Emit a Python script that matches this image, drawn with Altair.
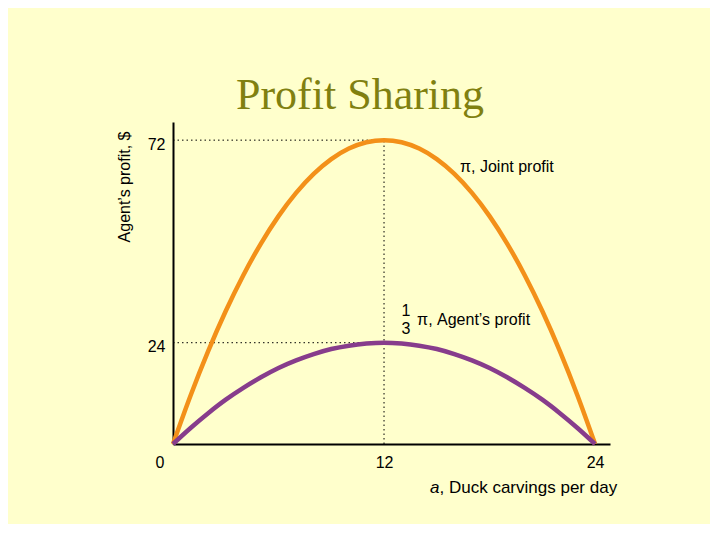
import altair as alt
import pandas as pd

# ---- data ----
a_vals = list(range(25))
joint_profit = [0, 11.5, 22, 31.5, 40, 47.5, 54, 59.5, 64, 67.5, 70, 71.5, 72,
                71.5, 70, 67.5, 64, 59.5, 54, 47.5, 40, 31.5, 22, 11.5, 0]
agent_profit = [0, 3.8, 7.3, 10.5, 13.3, 15.8, 18, 19.8, 21.3, 22.5, 23.3, 23.8, 24,
                23.8, 23.3, 22.5, 21.3, 19.8, 18, 15.8, 13.3, 10.5, 7.3, 3.8, 0]
x_ticks = [12, 24]
y_ticks = [24, 72]
peak_a = 12
peak_joint = 72
peak_agent = 24

BG = "#FFFFCC"
ORANGE = "#F39019"
PURPLE = "#873C8C"
FONT = "Liberation Sans"

curves = pd.DataFrame({
    "a": a_vals * 2,
    "profit": joint_profit + agent_profit,
    "series": ["Joint"] * len(a_vals) + ["Agent"] * len(a_vals),
})

guides = pd.DataFrame({
    "x": [0, 0, peak_a],
    "y": [peak_joint, peak_agent, 0],
    "x2": [peak_a, peak_a, peak_a],
    "y2": [peak_joint, peak_agent, peak_joint],
})

xs = alt.Scale(domain=[0, 24.85], nice=False, zero=True)
ys = alt.Scale(domain=[0, 76.3], nice=False, zero=True)

x_axis = alt.Axis(values=x_ticks, title=None, ticks=False, grid=False,
                  domainColor="black", domainWidth=2, labelFontSize=16,
                  labelFont=FONT, labelColor="black", labelPadding=10)
y_axis = alt.Axis(values=y_ticks, title=None, ticks=False, grid=False,
                  domainColor="black", domainWidth=2, labelFontSize=16,
                  labelFont=FONT, labelColor="black", labelPadding=8,
                  labelOffset=4)

guide_layer = alt.Chart(guides).mark_rule(
    color="black", strokeWidth=1, strokeDash=[1.5, 3]
).encode(
    x=alt.X("x:Q", scale=xs, axis=x_axis),
    y=alt.Y("y:Q", scale=ys, axis=y_axis),
    x2="x2:Q", y2="y2:Q",
)

curve_layer = alt.Chart(curves).mark_line(
    strokeWidth=4.5, interpolate="monotone"
).encode(
    x=alt.X("a:Q", scale=xs, axis=x_axis),
    y=alt.Y("profit:Q", scale=ys, axis=y_axis),
    color=alt.Color("series:N", scale=alt.Scale(domain=["Joint", "Agent"],
                                                range=[ORANGE, PURPLE]), legend=None),
    detail="series:N",
)

# zero label at the corner
zero_df = pd.DataFrame({"a": [0], "v": [0], "t": ["0"]})
zero_layer = alt.Chart(zero_df).mark_text(
    font=FONT, fontSize=16, color="black", dx=-13, dy=19, baseline="middle"
).encode(x=alt.X("a:Q", scale=xs), y=alt.Y("v:Q", scale=ys), text="t:N")

# curve annotations
ann_df = pd.DataFrame({
    "a": [16.32, 13.88],
    "v": [65.6, 29.4],
    "t": ["π, Joint profit", "π, Agent’s profit"],
})
ann_layer = alt.Chart(ann_df).mark_text(
    font=FONT, fontSize=16, color="black", align="left", baseline="middle"
).encode(x=alt.X("a:Q", scale=xs), y=alt.Y("v:Q", scale=ys), text="t:N")

frac_df = pd.DataFrame({"a": [13.25, 13.25], "v": [31.4, 27.3], "t": ["1", "3"]})
frac_layer = alt.Chart(frac_df).mark_text(
    font=FONT, fontSize=16, color="black", align="center", baseline="middle"
).encode(x=alt.X("a:Q", scale=xs), y=alt.Y("v:Q", scale=ys), text="t:N")

# title and axis titles as text
title_layer = alt.Chart(pd.DataFrame({"t": ["Profit Sharing"]})).mark_text(
    font="Liberation Serif", fontSize=44, color="#808010",
    align="center", baseline="alphabetic"
).encode(x=alt.value(187), y=alt.value(-13), text="t:N")

ytitle_layer = alt.Chart(pd.DataFrame({"t": ["Agent’s profit, $"]})).mark_text(
    font=FONT, fontSize=16, color="black", angle=270,
    align="center", baseline="middle"
).encode(x=alt.value(-48), y=alt.value(65), text="t:N")

xtitle_a = alt.Chart(pd.DataFrame({"t": ["a"]})).mark_text(
    font=FONT, fontSize=17, fontStyle="italic", color="black",
    align="left", baseline="middle"
).encode(x=alt.value(257), y=alt.value(44 + 322), text="t:N")

xtitle_rest = alt.Chart(pd.DataFrame({"t": [", Duck carvings per day"]})).mark_text(
    font=FONT, fontSize=17, color="black", align="left", baseline="middle"
).encode(x=alt.value(266.5), y=alt.value(44 + 322), text="t:N")

chart = alt.layer(
    guide_layer, curve_layer, zero_layer, ann_layer, frac_layer,
    title_layer, ytitle_layer, xtitle_a, xtitle_rest,
).properties(
    width=437, height=322,
    autosize=alt.AutoSizeParams(type="none"),
    padding={"left": 165, "top": 114, "right": 100, "bottom": 80},
    background=BG,
).configure_view(stroke=None)

chart.save("out.html", embed_options={"renderer": "svg", "actions": False})
